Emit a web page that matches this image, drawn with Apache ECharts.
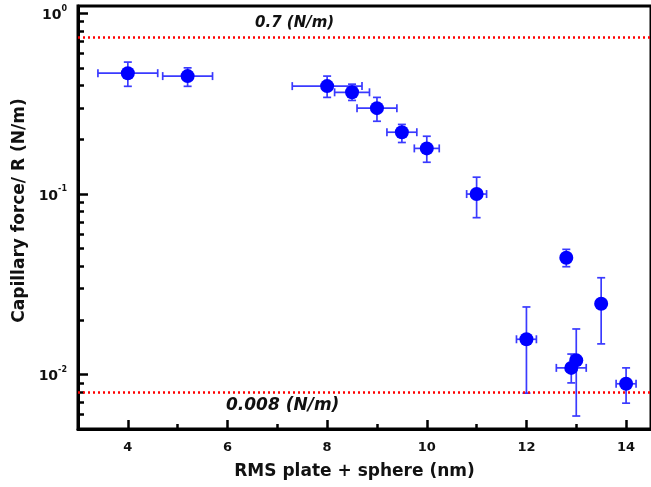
<!DOCTYPE html>
<html>
<head>
<meta charset="utf-8">
<script src="https://cdn.jsdelivr.net/npm/echarts@6/dist/echarts.min.js"></script>
<style>
  html, body { margin: 0; padding: 0; background: #fff; }
  #chart { width: 651px; height: 487px; }
</style>
</head>
<body>
<div id="chart"></div>
<script>
// data
var rmsValues = [4, 5.2, 8, 8.5, 9, 9.5, 10, 11, 12.8, 13.5, 12, 12.9, 13, 14];
var forceValues = [0.467, 0.45, 0.396, 0.366, 0.299, 0.22, 0.179, 0.1, 0.0444, 0.0247, 0.0157, 0.0109, 0.012, 0.0089];
var rmsErr = [0.6, 0.5, 0.7, 0.35, 0.4, 0.3, 0.25, 0.2, 0, 0, 0.2, 0.3, 0, 0.2];
var forceLow = [0.395, 0.395, 0.343, 0.33, 0.253, 0.193, 0.15, 0.074, 0.0396, 0.0148, 0.0079, 0.009, 0.0059, 0.00695];
var forceHigh = [0.538, 0.50, 0.45, 0.406, 0.343, 0.243, 0.209, 0.124, 0.0494, 0.0344, 0.0237, 0.013, 0.0179, 0.0109];
var refLines = [0.74, 0.008];
var refLabels = ['0.7 (N/m)', '0.008 (N/m)'];

var xMajorTicks = [4, 6, 8, 10, 12, 14];
var xMinorTicks = [5, 7, 9, 11, 13];
var yMajorTicks = [0.01, 0.1, 1];
var yMinorTicks = [0.005, 0.006, 0.007, 0.008, 0.009,
  0.02, 0.03, 0.04, 0.05, 0.06, 0.07, 0.08, 0.09,
  0.2, 0.3, 0.4, 0.5, 0.6, 0.7, 0.8, 0.9];

var font = 'DejaVu Sans, sans-serif';

var pointData = [];
var errData = [];
for (var i = 0; i < rmsValues.length; i++) {
    pointData.push([rmsValues[i], forceValues[i]]);
    errData.push([rmsValues[i], forceValues[i], rmsErr[i], forceLow[i], forceHigh[i]]);
}

// error bars, vertical always, horizontal when rmsErr > 0
function renderErr(params, api) {
    var x = api.value(0), y = api.value(1), xe = api.value(2);
    var lo = api.coord([x, api.value(3)]);
    var hi = api.coord([x, api.value(4)]);
    var c = api.coord([x, y]);
    var cap = 4;
    var st = {stroke: '#3a3aff', lineWidth: 1.7};
    var kids = [
        {type: 'line', shape: {x1: lo[0], y1: lo[1], x2: hi[0], y2: hi[1]}, style: st},
        {type: 'line', shape: {x1: lo[0] - cap, y1: lo[1], x2: lo[0] + cap, y2: lo[1]}, style: st},
        {type: 'line', shape: {x1: hi[0] - cap, y1: hi[1], x2: hi[0] + cap, y2: hi[1]}, style: st}
    ];
    if (xe > 0) {
        var l = api.coord([x - xe, y]);
        var r = api.coord([x + xe, y]);
        kids.push({type: 'line', shape: {x1: l[0], y1: c[1], x2: r[0], y2: c[1]}, style: st});
        kids.push({type: 'line', shape: {x1: l[0], y1: c[1] - cap, x2: l[0], y2: c[1] + cap}, style: st});
        kids.push({type: 'line', shape: {x1: r[0], y1: c[1] - cap, x2: r[0], y2: c[1] + cap}, style: st});
    }
    return {type: 'group', children: kids};
}

var myChart = echarts.init(document.getElementById('chart'));

var option = {
    backgroundColor: '#fff',
    animation: false,
    grid: {left: 78, top: 6, width: 576, height: 423, show: true, borderColor: '#000', borderWidth: 3},
    xAxis: [
        {
            type: 'value', min: 3, max: 14.5,
            name: 'RMS plate + sphere (nm)', nameLocation: 'middle', nameGap: 34,
            nameTextStyle: {fontFamily: font, fontWeight: 'bold', fontSize: 17, color: '#111', padding: [0, 20, 0, 0]},
            axisLine: {lineStyle: {color: '#000', width: 3}},
            axisTick: {inside: true, length: 9, lineStyle: {width: 2.5, color: '#000'}, customValues: xMajorTicks},
            axisLabel: {margin: 12, fontFamily: font, fontWeight: 'bold', fontSize: 13, color: '#111', customValues: xMajorTicks},
            splitLine: {show: false}
        },
        {
            type: 'value', min: 3, max: 14.5, position: 'bottom',
            axisLine: {show: false},
            axisTick: {inside: true, length: 5, lineStyle: {width: 2.5, color: '#000'}, customValues: xMinorTicks},
            axisLabel: {show: false},
            splitLine: {show: false}
        }
    ],
    yAxis: [
        {
            type: 'log', min: 0.005, max: 1.1,
            name: 'Capillary force/ R (N/m)', nameLocation: 'middle', nameGap: 48,
            nameTextStyle: {fontFamily: font, fontWeight: 'bold', fontSize: 17, color: '#111', padding: [0, 0, 0, 14]},
            axisLine: {lineStyle: {color: '#000', width: 3}},
            axisTick: {inside: true, length: 10, lineStyle: {width: 2.5, color: '#000'}, customValues: yMajorTicks},
            axisLabel: {
                margin: 11, customValues: yMajorTicks,
                formatter: function (v) {
                    return '{b|10}{s|' + Math.round(Math.log10(v)) + '}';
                },
                rich: {
                    b: {fontFamily: font, fontWeight: 'bold', fontSize: 14, color: '#111', verticalAlign: 'bottom', lineHeight: 18},
                    s: {fontFamily: font, fontWeight: 'bold', fontSize: 8, color: '#111', verticalAlign: 'top', lineHeight: 18}
                }
            },
            splitLine: {show: false}
        },
        {
            type: 'log', min: 0.005, max: 1.1, position: 'left',
            axisLine: {show: false},
            axisTick: {inside: true, length: 6, lineStyle: {width: 2.5, color: '#000'}, customValues: yMinorTicks},
            axisLabel: {show: false},
            splitLine: {show: false}
        }
    ],
    series: [
        {
            type: 'custom', xAxisIndex: 0, yAxisIndex: 0,
            renderItem: renderErr, data: errData, z: 2,
            markLine: {
                silent: true, symbol: 'none', precision: 4, label: {show: false},
                lineStyle: {color: '#ff0000', width: 2.5, type: [2, 3]},
                data: refLines.map(function (v) { return {yAxis: v}; })
            }
        },
        {
            type: 'scatter', xAxisIndex: 0, yAxisIndex: 0,
            symbol: 'circle', symbolSize: 14,
            itemStyle: {color: '#0000ff', opacity: 1},
            data: pointData, z: 3
        }
    ],
    graphic: [
        {type: 'text', left: 255, top: 16, style: {text: refLabels[0], font: 'italic bold 15px ' + font, fill: '#111'}},
        {type: 'text', left: 226, top: 397, style: {text: refLabels[1], font: 'italic bold 17px ' + font, fill: '#111'}}
    ]
};

myChart.setOption(option);
</script>
</body>
</html>
